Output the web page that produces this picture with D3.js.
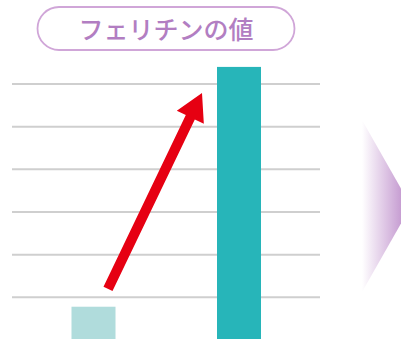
<!DOCTYPE html>
<html>
<head>
<meta charset="utf-8">
<script src="https://cdn.jsdelivr.net/npm/d3@7"></script>
<style>
body { margin:0; background:#fff; }
svg { display:block; }
</style>
</head>
<body>
<svg id="chart" width="401" height="339"></svg>
<script>
var categories = ["before", "after"];
var values = [0.78, 6.4];
var barColors = ["#b0dcdc", "#27b5b9"];
var gridTicks = [0, 1, 2, 3, 4, 5, 6];
var titleText = "フェリチンの値";
// arrow runs from just above the small bar to near the tall bar top (value units)
var arrowFrom = 1.2, arrowTo = 5.79;

var svg = d3.select("#chart");

var x = d3.scalePoint().domain(categories).range([93.5, 239]);
var y = d3.scaleLinear().domain([0, 7]).range([340, 340 - 7 * 42.67]);
var barW = 44;

var defs = svg.append("defs");
var grad = defs.append("linearGradient").attr("id", "fade")
	.attr("x1", "0%").attr("x2", "100%").attr("y1", "0%").attr("y2", "0%");
grad.append("stop").attr("offset", "0%").attr("stop-color", "#b57fc4").attr("stop-opacity", 0);
grad.append("stop").attr("offset", "100%").attr("stop-color", "#b57fc4").attr("stop-opacity", 0.95);

// title pill
svg.append("rect")
	.attr("x", 37.5).attr("y", 7).attr("width", 257).attr("height", 43)
	.attr("rx", 21.5).attr("ry", 21.5)
	.attr("fill", "#fff").attr("stroke", "#d0a6d8").attr("stroke-width", 1.8);
svg.append("text")
	.attr("x", 166).attr("y", 38.5)
	.attr("text-anchor", "middle")
	.attr("font-family", "Noto Sans CJK JP")
	.attr("font-size", 25)
	.attr("font-weight", 500)
	.attr("fill", "#b27ec2")
	.text(titleText);

// gridlines
svg.append("g").selectAll("line")
	.data(gridTicks)
	.enter()
	.append("line")
	.attr("x1", 12).attr("x2", 320)
	.attr("y1", function(d) { return y(d); })
	.attr("y2", function(d) { return y(d); })
	.attr("stroke", "#cfcfcf").attr("stroke-width", 2);

// bars
svg.append("g").selectAll("rect")
	.data(values)
	.enter()
	.append("rect")
	.attr("x", function(d, i) { return x(categories[i]) - barW / 2; })
	.attr("y", function(d) { return y(d); })
	.attr("width", barW)
	.attr("height", function(d) { return y(0) - y(d); })
	.attr("fill", function(d, i) { return barColors[i]; });

// red arrow
var tx = x(categories[0]) + 14.5, ty = y(arrowFrom);
var hx = x(categories[1]) - 37, hy = y(arrowTo);
var dx = hx - tx, dy = hy - ty, len = Math.sqrt(dx * dx + dy * dy);
var ux = dx / len, uy = dy / len, px = -uy, py = ux;
var headL = 27, headW = 15, shaftW = 5;
var bx = hx - ux * headL, by = hy - uy * headL;
var pts = [
	[tx + px * shaftW, ty + py * shaftW],
	[bx + px * shaftW, by + py * shaftW],
	[bx + px * headW, by + py * headW],
	[hx, hy],
	[bx - px * headW, by - py * headW],
	[bx - px * shaftW, by - py * shaftW],
	[tx - px * shaftW, ty - py * shaftW]
];
svg.append("path")
	.attr("d", d3.line()(pts) + "Z")
	.attr("fill", "#e60012");

// purple fading triangle on the right
svg.append("path")
	.attr("d", "M362,120 L411,206 L362,292 Z")
	.attr("fill", "url(#fade)");
</script>
</body>
</html>
